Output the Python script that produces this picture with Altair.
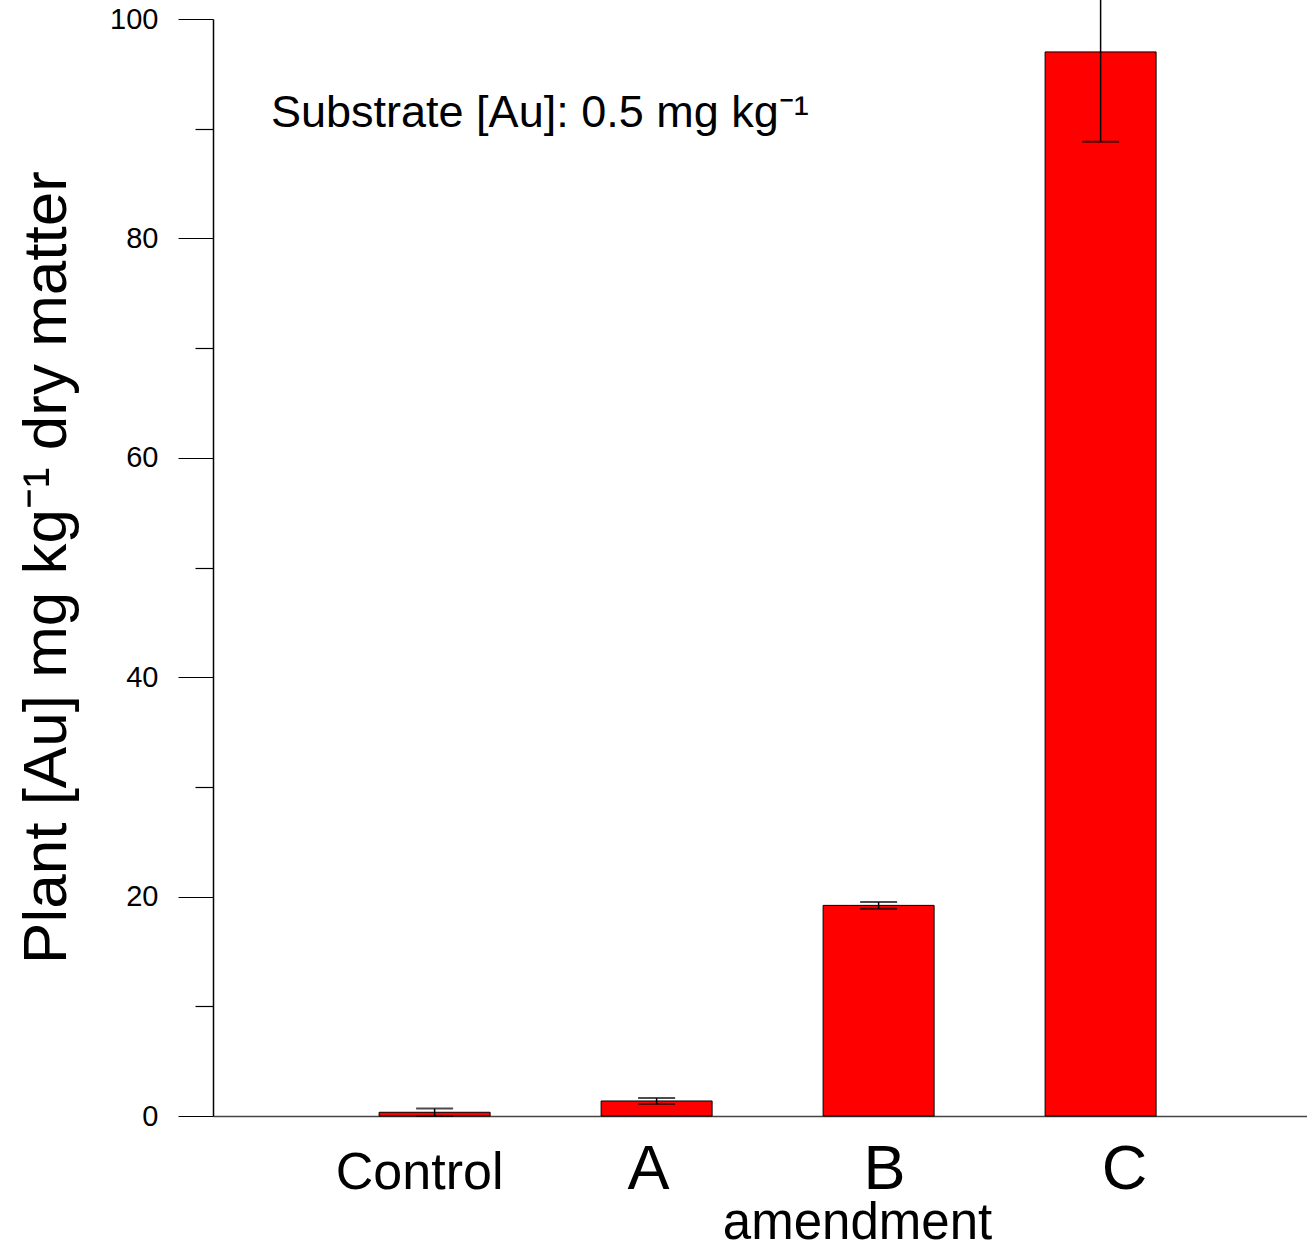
import altair as alt
import pandas as pd

# Data
treatments = ["Control", "A", "B", "C"]
au_mean = [0.34, 1.37, 19.2, 97.0]
au_err = [0.34, 0.27, 0.3, 8.2]

df = pd.DataFrame({"treatment": treatments, "mean": au_mean, "err": au_err})
df["lo"] = df["mean"] - df["err"]
df["hi"] = df["mean"] + df["err"]

FONT = "Liberation Sans"

x_scale = alt.Scale(domain=treatments, paddingInner=0.5, paddingOuter=0.714, align=0.524)
y_scale = alt.Scale(domain=[0, 100], nice=False, zero=True)

x_axis = alt.Axis(
    title="amendment",
    titleFont=FONT, titleFontSize=51, titleFontWeight="normal", titleColor="black",
    titleX=644, titleY=122, titleBaseline="alphabetic", titleAlign="center",
    labelFont=FONT, labelColor="black", labelAngle=0,
    labelFontSize={"condition": {"test": "datum.value === 'Control'", "value": 52}, "value": 63},
    labelOffset={"condition": [
        {"test": "datum.value === 'Control'", "value": -15},
        {"test": "datum.value === 'A'", "value": -8},
        {"test": "datum.value === 'B'", "value": 6}], "value": 24},
    labelBaseline="alphabetic", labelPadding=72,
    ticks=False, tickSize=0,
    domain=True, domainColor="#444444", domainWidth=1.5,
    grid=False,
)

y_axis = alt.Axis(
    title="Plant [Au] mg kg⁻¹ dry matter",
    titleFont=FONT, titleFontSize=62, titleFontWeight="normal", titleColor="black",
    titleAngle=270, titleX=-148, titleY=548, titleBaseline="alphabetic", titleAlign="center",
    values=list(range(0, 101, 10)),
    labelExpr="datum.value % 20 === 0 ? datum.value : ''",
    labelFont=FONT, labelFontSize=29, labelColor="black", labelPadding=20,
    tickSize={"condition": {"test": "datum.value % 20 !== 0", "value": 18}, "value": 35},
    tickColor="black", tickWidth=1.2,
    domain=True, domainColor="black", domainWidth=1.5,
    grid=False,
)

base = alt.Chart(df)

bars = base.mark_bar(color="#ff0000", stroke="black", strokeWidth=1).encode(
    x=alt.X("treatment:N", scale=x_scale, axis=x_axis, sort=treatments),
    y=alt.Y("mean:Q", scale=y_scale, axis=y_axis),
)

rules = base.mark_rule(color="black", strokeWidth=1.5).encode(
    x=alt.X("treatment:N", sort=treatments),
    y="lo:Q",
    y2="hi:Q",
)

caps_lo = base.mark_tick(color="black", thickness=2, size=37).encode(
    x=alt.X("treatment:N", sort=treatments),
    y="lo:Q",
)
caps_hi = base.mark_tick(color="black", thickness=2, size=37).encode(
    x=alt.X("treatment:N", sort=treatments),
    y="hi:Q",
)

note = alt.Chart(pd.DataFrame({"t": ["Substrate [Au]: 0.5 mg kg⁻¹"]})).mark_text(
    font=FONT, fontSize=45, align="left", baseline="alphabetic", color="black"
).encode(
    x=alt.value(58), y=alt.value(108), text="t:N"
)

chart = alt.layer(bars, rules, caps_lo, caps_hi, note).properties(
    width=1094, height=1097,
    padding={"left": 213, "top": 19, "right": 0, "bottom": 132},
    autosize=alt.AutoSizeParams(type="none"),
).configure(background="white", view=alt.ViewConfig(stroke=None))

chart.save("out.html", embed_options={"renderer": "svg", "actions": False})
